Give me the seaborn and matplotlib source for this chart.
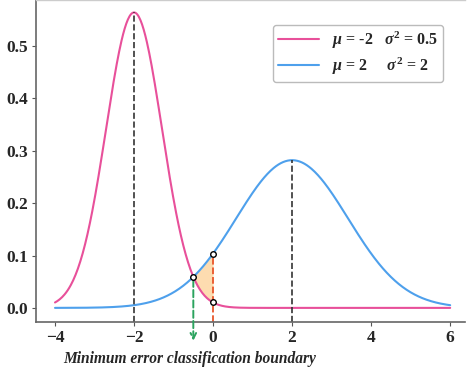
import numpy as np
import pandas as pd
import matplotlib
matplotlib.use("Agg")
import matplotlib.pyplot as plt
import seaborn as sns

mu1, var1 = -2, 0.5
mu2, var2 = 2, 2
x_start, x_end = -4, 6
boundary = -0.5  # minimum error boundary (intersection)
x_mark = 0       # reference point at x = 0

pink = "#E8509A"
blue = "#4EA0EC"


def gauss(x, mu, var):
    return np.exp(-(x - mu) ** 2 / (2 * var)) / np.sqrt(2 * np.pi * var)


xs = np.linspace(x_start, x_end, 500)
df = pd.DataFrame({
    "x": np.concatenate([xs, xs]),
    "p": np.concatenate([gauss(xs, mu1, var1), gauss(xs, mu2, var2)]),
    "dist": [r"$\mu$ = -2   $\sigma^2$ = 0.5"] * len(xs) + [r"$\mu$ = 2     $\sigma^2$ = 2"] * len(xs),
})

sns.set_style("ticks")
plt.rcParams["font.family"] = ["Liberation Serif", "DejaVu Serif"]
plt.rcParams["font.weight"] = "bold"
plt.rcParams["mathtext.fontset"] = "custom"
plt.rcParams["mathtext.it"] = "Liberation Serif:italic:bold"
plt.rcParams["mathtext.rm"] = "Liberation Serif:bold"

fig = plt.figure(figsize=(4.68, 3.71), dpi=100)
ax = fig.add_axes([0.077, 0.132, 0.917, 0.868])

sns.lineplot(data=df, x="x", y="p", hue="dist", palette=[pink, blue], lw=1.5, ax=ax)

# fill between the curves from the boundary to x = 0
xf = np.linspace(boundary, x_mark, 50)
ax.fill_between(xf, gauss(xf, mu1, var1), gauss(xf, mu2, var2), color="#FDD9A8", alpha=0.9, lw=0)

ymin = -0.027
# peak lines
for mu, var in [(mu1, var1), (mu2, var2)]:
    ax.plot([mu, mu], [ymin, gauss(mu, mu, var)], ls="--", color="#333333", lw=1.2)

# red dashed line at x = 0
y_top = gauss(x_mark, mu2, var2)
y_bot = gauss(x_mark, mu1, var1)
ax.plot([x_mark, x_mark], [ymin, y_top], ls="--", color="#E8552A", lw=1.3, clip_on=False)

# green arrow from intersection down below axis
y_int = gauss(boundary, mu2, var2)
ax.annotate("", xy=(boundary, -0.068), xytext=(boundary, y_int),
            arrowprops=dict(arrowstyle="->", ls="--", color="#2BA35E", lw=1.4),
            annotation_clip=False)

ax.scatter([boundary, x_mark, x_mark], [y_int, y_top, y_bot], s=16,
           facecolor="white", edgecolor="black", lw=1, zorder=5)

ax.set_xlim(-4.48, 6.38)
ax.set_ylim(ymin, 0.588)
ax.set_xticks([-4, -2, 0, 2, 4, 6])
ax.set_xticklabels(["\u22124", "\u22122", "0", "2", "4", "6"])
ax.set_yticks([0, 0.1, 0.2, 0.3, 0.4, 0.5])
ax.set_yticklabels(["0.0", "0.1", "0.2", "0.3", "0.4", "0.5"])
ax.tick_params(labelsize=12.5, length=3, color="#555555", pad=3)
for lab in ax.get_xticklabels() + ax.get_yticklabels():
    lab.set_fontweight("heavy")
ax.set_xlabel("")
ax.set_ylabel("")
sns.despine(ax=ax, top=False)
for s in ["left", "bottom"]:
    ax.spines[s].set_color("#666666")
    ax.spines[s].set_linewidth(1.2)
ax.spines["top"].set_color("#cccccc")
ax.spines["top"].set_linewidth(1.0)

ax.legend(loc="upper right", bbox_to_anchor=(0.967, 0.948),
          frameon=True, edgecolor="#aaaaaa", handlelength=2.6, labelspacing=0.3,
          borderpad=0.3, prop={"weight": "bold", "size": 11.5})

fig.text(0.135, 0.022, "Minimum error classification boundary", fontsize=11.2,
         fontweight="bold", fontstyle="italic")

fig.savefig("out.png", dpi=100)
